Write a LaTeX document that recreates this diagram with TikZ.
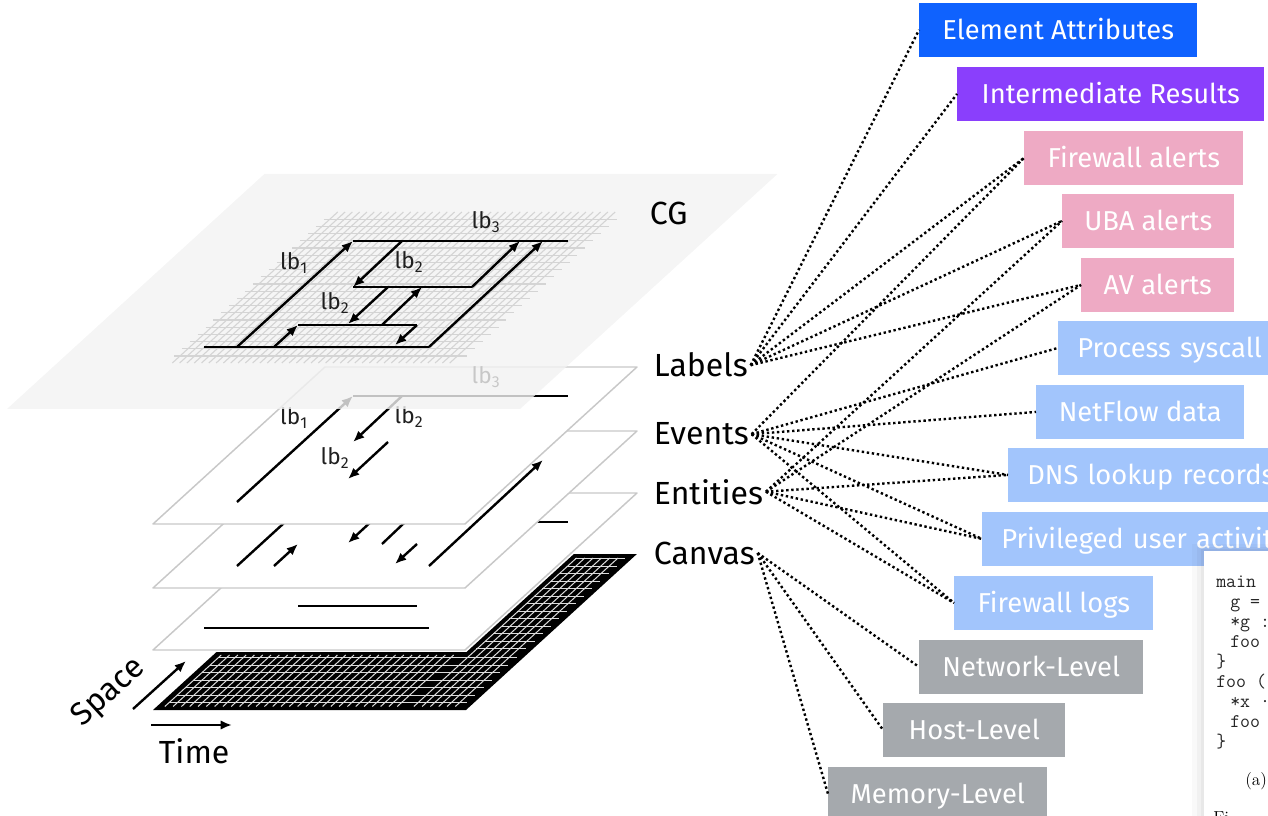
\documentclass[tikz,border=0pt]{standalone}
\usepackage{fontspec}
\setmainfont{Fira Sans}
\newfontfamily\capserif{Latin Modern Roman}
\usetikzlibrary{arrows.meta}

\definecolor{eablue}{HTML}{0F62FE}
\definecolor{irpurple}{HTML}{8A3FFC}
\definecolor{alertpink}{HTML}{EEAAC4}
\definecolor{datablue}{HTML}{A2C5FC}
\definecolor{levelgray}{HTML}{A5A9AD}
\definecolor{planeedge}{HTML}{C8C8C8}
\definecolor{cgfill}{HTML}{F2F2F2}
\definecolor{cggrid}{HTML}{D4D4D4}
\definecolor{cangrid}{HTML}{DCDCDC}

\tikzset{
  depthframe/.style={x={(0.75pt,0pt)}, y={(0.8216pt,0.75pt)}},
  plane/.style={draw=planeedge, line width=1.1pt, fill=white, line join=round},
  edge/.style={line width=1.8pt, black},
  arr/.style={edge, -{Latex[length=8.5pt,width=7pt]}},
  lbtext/.style={font=\fontsize{17}{20}\selectfont, text=black!88, inner sep=0pt},
  bigtext/.style={font=\fontsize{24}{28}\selectfont, inner sep=2pt, anchor=base west},
  box/.style={anchor=north west, minimum height=40pt, inner sep=0pt, text=white,
    text height=15.5pt, text depth=1pt, font=\fontsize{20.5}{24}\selectfont},
  cutbox/.style={box, text width=230pt, align=left, inner xsep=14.25pt},
  conn/.style={line width=1.8pt, dash pattern=on 1.8pt off 2pt, black},
  codeline/.style={anchor=base west, inner sep=0pt, font=\ttfamily\fontsize{14.5}{16}\selectfont, text=black!85},
  gridline/.style={draw=cggrid, line width=0.8pt},
  canline/.style={draw=cangrid, line width=0.75pt},
}

% horizontal entity lines of the combined graph
\newcommand\entitylines{%
  \draw[edge] (204,347) -- (429,347);
  \draw[edge] (298,325) -- (417,325);
  \draw[edge] (353,287) -- (472,287);
  \draw[edge] (353,241) -- (568,241);}
% diagonal event arrows of the combined graph
\newcommand\eventarrows{%
  \draw[arr] (237,347) -- (353,241);
  \draw[arr] (274,347) -- (298,325);
  \draw[arr] (402,241) -- (353,287);
  \draw[arr] (472,287) -- (520,241);
  \draw[arr] (388,287) -- (348,324);
  \draw[arr] (382,325) -- (422,287);
  \draw[arr] (417,325) -- (395,345);
  \draw[arr] (429,347) -- (543,241);}
% label names placed next to the labelled edges
\newcommand\lbnames[1]{%
  \node[lbtext] (#1lbone) at (294,263) {lb\textsubscript{1}};
  \node[lbtext] (#1lbtwoa) at (409,262) {lb\textsubscript{2}};
  \node[lbtext] (#1lbtwob) at (335,303) {lb\textsubscript{2}};
  \node[lbtext] (#1lbthree) at (486,222) {lb\textsubscript{3}};}

\begin{document}
\begin{tikzpicture}[x=0.75pt, y=-0.75pt]
\useasboundingbox (0,0) rectangle (1268,816);
\clip (0,0) rectangle (1268,816);

% ---------- canvas layer: black L-shaped grid ----------
\begin{scope}[shift={(153,710)}, depthframe]
  \fill[black] (0,0) -- (313,0) -- (313,156) -- (250,156) -- (250,58) -- (0,58) -- cycle;
  \foreach \v in {7.5,15,...,54} \draw[canline] (8,\v) -- (306,\v);
  \foreach \v in {61.5,69,...,152} \draw[canline] (256,\v) -- (306,\v);
  \foreach \u in {8,16.3,...,248} \draw[canline] (\u,3.5) -- (\u,55);
  \foreach \u in {257,265.3,...,305} \draw[canline] (\u,3.5) -- (\u,152);
\end{scope}

% ---------- entities layer ----------
\begin{scope}[shift={(153,650)}, depthframe]
  \draw[plane] (0,0) -- (312,0) -- (312,157) -- (0,157) -- cycle;
\end{scope}
\begin{scope}[shift={(0,281)}]
  \entitylines
\end{scope}

% ---------- events layer ----------
\begin{scope}[shift={(153,588)}, depthframe]
  \draw[plane] (0,0) -- (312,0) -- (312,157) -- (0,157) -- cycle;
\end{scope}
\begin{scope}[shift={(0,219)}]
  \eventarrows
\end{scope}

% ---------- labels layer ----------
\begin{scope}[shift={(153,524)}, depthframe]
  \draw[plane] (0,0) -- (312,0) -- (312,157) -- (0,157) -- cycle;
\end{scope}
\begin{scope}[shift={(0,155)}]
  \draw[edge] (353,241) -- (568,241);
  \draw[arr] (237,347) -- (353,241);
  \draw[arr] (402,241) -- (353,287);
  \draw[arr] (388,287) -- (348,324);
  \lbnames{lay}
\end{scope}

% ---------- combined graph layer (translucent) ----------
\begin{scope}[shift={(7,409)}, depthframe]
  \fill[cgfill, opacity=0.8] (0,0) -- (513,0) -- (513,235) -- (0,235) -- cycle;
\end{scope}
\begin{scope}[shift={(180,356)}, depthframe]
  \foreach \v in {0,7.2,...,137.5} \draw[gridline] (-6,\v) -- (287,\v);
  \foreach \u in {0,7.3,...,284} \draw[gridline] (\u,-7) -- (\u,144);
\end{scope}
\entitylines
\eventarrows
\lbnames{cg}
\node[bigtext] (cg) at (647,225) {CG};

% ---------- axes ----------
\draw[arr] (151,725) -- (232,725);
\draw[arr] (133,709) -- (186,661);
\node[bigtext] (timetxt) at (156,763) {Time};
\node[font=\fontsize{24}{28}\selectfont, inner sep=0pt, rotate=42.4] (spacetxt) at (109,693) {Space};

% ---------- layer names ----------
\node[bigtext] (labels) at (651,377) {Labels};
\node[bigtext] (events) at (651,445) {Events};
\node[bigtext] (entities) at (651,504) {Entities};
\node[bigtext] (canvas) at (651,564) {Canvas};

% ---------- data sources ----------
\node[box, fill=eablue, minimum width=208.5pt] (ea) at (919,3) {Element Attributes};
\node[box, fill=irpurple, minimum width=230.25pt] (ir) at (957,67) {Intermediate Results};
\node[box, fill=alertpink, minimum width=164.25pt] (fwa) at (1024,131) {Firewall alerts};
\node[box, fill=alertpink, minimum width=129pt] (uba) at (1062,194) {UBA alerts};
\node[box, fill=alertpink, minimum width=114.75pt] (ava) at (1081,258) {AV alerts};
\node[cutbox, fill=datablue] (proc) at (1058,321) {Process syscall};
\node[box, fill=datablue, minimum width=156pt] (netflow) at (1036,385) {NetFlow data};
\node[cutbox, fill=datablue] (dns) at (1008,448) {DNS lookup records};
\node[cutbox, fill=datablue] (priv) at (982,512) {Privileged user activit};
\node[box, fill=datablue, minimum width=149.25pt] (fwl) at (954,576) {Firewall logs};
\node[box, fill=levelgray, minimum width=168pt] (netlvl) at (919,640) {Network-Level};
\node[box, fill=levelgray, minimum width=136.5pt] (hostlvl) at (883,703) {Host-Level};
\node[box, fill=levelgray, minimum width=164.25pt] (memlvl) at (828,767) {Memory-Level};

% ---------- dotted links ----------
\foreach \t in {ea,ir,fwa,uba,ava} \draw[conn] (labels.east) -- (\t.west);
\foreach \t in {fwa,proc,netflow,dns,priv,fwl} \draw[conn] (events.east) -- (\t.west);
\foreach \t in {uba,ava,dns,priv,fwl} \draw[conn] (entities.east) -- (\t.west);
\foreach \t in {netlvl,hostlvl,memlvl} \draw[conn] (canvas.east) -- (\t.west);

% ---------- code listing panel ----------
\fill[black, opacity=0.025] (1192,544) rectangle (1290,830);
\fill[black, opacity=0.03] (1197,547) rectangle (1290,830);
\fill[black, opacity=0.04] (1201,549) rectangle (1290,830);
\fill[white] (1204,551) rectangle (1290,830);
\node[codeline] (code1) at (1216,587) {main};
\node[codeline] (code2) at (1230,607) {g =};
\node[codeline] (code3) at (1230,627) {*g :};
\node[codeline] (code4) at (1230,647) {foo};
\node[codeline] (code5) at (1216,667) {\}};
\node[codeline] (code6) at (1216,687) {foo (};
\node[codeline] (code7) at (1230,707) {*x ·};
\node[codeline] (code8) at (1230,727) {foo};
\node[codeline] (code9) at (1216,747) {\}};
\node[anchor=base west, inner sep=0pt, font=\capserif\fontsize{13}{15}\selectfont] (subcap) at (1245,785) {(a)};
\node[anchor=base west, inner sep=0pt, font=\capserif\fontsize{13}{15}\selectfont] (figcap) at (1213,823) {Fi};
\end{tikzpicture}
\end{document}
